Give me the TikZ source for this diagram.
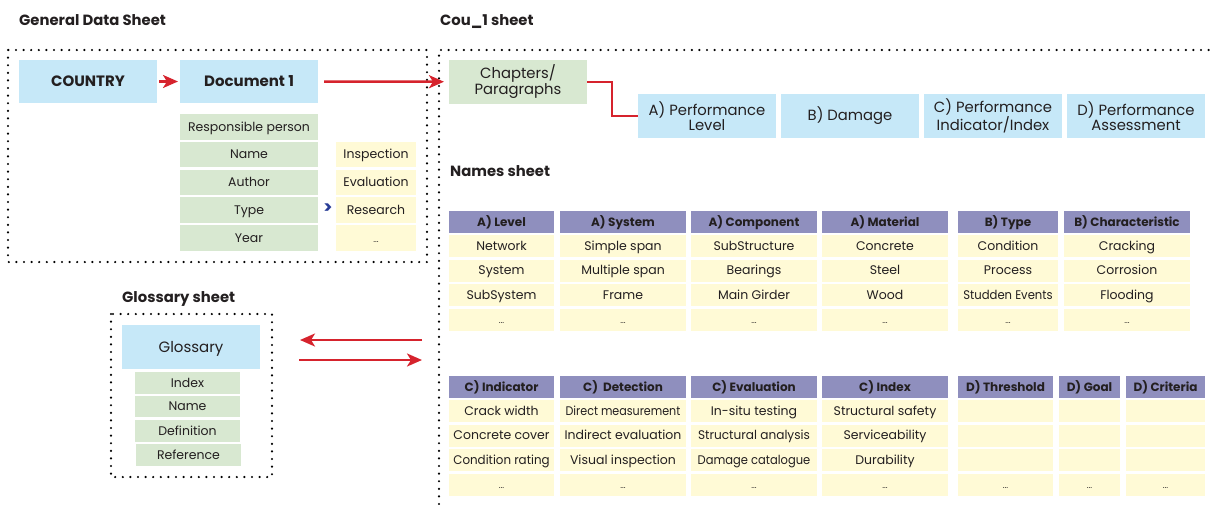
\documentclass[tikz,border=0pt]{standalone}
\usepackage{fontspec}
\setmainfont{Poppins}
\usetikzlibrary{arrows.meta}
\definecolor{cblue}{RGB}{198,232,248}
\definecolor{cgreen}{RGB}{216,232,209}
\definecolor{cyellow}{RGB}{255,250,214}
\definecolor{cpurple}{RGB}{143,143,190}
\definecolor{cred}{RGB}{214,35,45}
\definecolor{cnavy}{RGB}{40,60,150}
\definecolor{ctext}{RGB}{35,31,32}
\newcommand\rbox[7]{\node[#2, minimum width={(#5-#3)*1pt}, minimum height={(#6-#4)*1pt}] (#1) at (#3,#4) {#7};}
\tikzset{
  cellbase/.style={anchor=north west, inner sep=0pt, outer sep=0pt, align=center, text=ctext},
  body/.style={font=\fontsize{12.5}{14}\selectfont, text height=8.7pt, text depth=0pt},
  bluebox/.style={cellbase, fill=cblue, font=\fontsize{14.8}{14.5}\selectfont},
  bluebold/.style={cellbase, fill=cblue, font=\bfseries\fontsize{15}{16}\selectfont, text height=10.5pt, text depth=0pt},
  gcell/.style={cellbase, fill=cgreen, body},
  ycell/.style={cellbase, fill=cyellow, body},
  hdr/.style={cellbase, fill=cpurple, font=\bfseries\fontsize{12}{13}\selectfont, text height=8.4pt, text depth=0pt},
  title/.style={anchor=base west, inner sep=0pt, text=ctext, font=\bfseries\fontsize{14.8}{16}\selectfont},
  dotline/.style={line width=2.4pt, line cap=round, dash pattern=on 0pt off 7.6pt},
  redarrow/.style={draw=cred, line width=2.5pt, -{Stealth[length=15pt,width=13pt,inset=4pt]}},
  redline/.style={draw=cred, line width=2.5pt}
}
\newcommand\celldots{{\fontsize{8.5}{9}\selectfont ...}}
\begin{document}
\begin{tikzpicture}[x=1pt,y=-1pt]
\useasboundingbox (0,0) rectangle (1211,504);
% titles
\node[title] (tgen) at (19,25) {General Data Sheet};
\node[title] (tcou) at (440,25) {Cou\_1 sheet};
\node[title] (tnam) at (450,176.5) {Names sheet};
\node[title] (tglo) at (122,302.5) {Glossary sheet};
% dotted frames
\draw[dotline] (8,50) rectangle (427,262);
\draw[dotline] (111,314) rectangle (272,477);
\draw[dotline] (439,504) -- (439,50) -- (1211,50);
% general data sheet
\rbox{country}{bluebold}{19}{60}{157}{103}{COUNTRY}
\rbox{doc}{bluebold}{180}{60}{318}{103}{Document 1}
\rbox{g1}{gcell}{180}{114}{318}{139.5}{Responsible person}
\rbox{g2}{gcell}{180}{141.8}{318}{167.3}{Name}
\rbox{g3}{gcell}{180}{169.6}{318}{195.1}{Author}
\rbox{g4}{gcell}{180}{197.4}{318}{222.9}{Type}
\rbox{g5}{gcell}{180}{225.2}{318}{250.7}{Year}
\rbox{y2}{ycell}{336}{141.8}{416}{167.3}{Inspection}
\rbox{y3}{ycell}{336}{169.6}{416}{195.1}{Evaluation}
\rbox{y4}{ycell}{336}{197.4}{416}{222.9}{Research}
\rbox{y5}{ycell}{336}{225.2}{416}{250.7}{\celldots}
\node[text=cnavy, inner sep=0pt, font=\bfseries\fontsize{17}{17}\selectfont] (gt) at (328,209) {>};
\draw[redarrow, shorten <=2pt, shorten >=2pt] (country.east) -- (doc.west);
% Cou_1 sheet
\rbox{chap}{bluebox,fill=cgreen}{449}{60}{587}{103.5}{Chapters/\\Paragraphs}
\rbox{pa}{bluebox}{638}{94}{776}{138}{A) Performance\\Level}
\rbox{pb}{bluebox}{781}{94}{919}{138}{B) Damage}
\rbox{pc}{bluebox}{924}{94}{1062}{138}{C) Performance\\Indicator/Index}
\rbox{pd}{bluebox}{1067}{94}{1205}{138}{D) Performance\\Assessment}
\draw[redarrow, shorten <=6pt, shorten >=5pt] (doc.east) -- (chap.west);
\draw[redline] (chap.east) -- ++(25,0) |- (pa.west);
% names table 1
\foreach \i/\xa/\xb/\hd/\ra/\rb/\rc in {
  1/449/554/A) Level/Network/System/SubSystem,
  2/560/686/A) System/Simple span/Multiple span/Frame,
  3/691/817/A) Component/SubStructure/Bearings/Main Girder,
  4/822/948/A) Material/Concrete/Steel/Wood,
  5/958/1058/B) Type/Condition/Process/\scalebox{0.93}[1]{Studden Events},
  6/1064/1190/B) Characteristic/Cracking/Corrosion/Flooding}{
  \rbox{ta\i h}{hdr}{\xa}{211}{\xb}{233}{\hd}
  \rbox{ta\i a}{ycell}{\xa}{235}{\xb}{257}{\ra}
  \rbox{ta\i b}{ycell}{\xa}{259.5}{\xb}{281.5}{\rb}
  \rbox{ta\i c}{ycell}{\xa}{284}{\xb}{306}{\rc}
  \rbox{ta\i d}{ycell}{\xa}{308.5}{\xb}{330.5}{\celldots}
}
% names table 2
\foreach \i/\xa/\xb/\hd/\ra/\rb/\rc in {
  1/449/554/C) Indicator/Crack width/Concrete cover/\scalebox{0.95}[1]{Condition rating},
  2/560/686/C)~ Detection/\scalebox{0.89}[1]{Direct measurement}/Indirect evaluation/Visual inspection,
  3/691/817/C) Evaluation/In-situ testing/\scalebox{0.97}[1]{Structural analysis}/\scalebox{0.92}[1]{Damage catalogue},
  4/822/948/C) Index/Structural safety/Serviceability/Durability,
  5/958/1053/D) Threshold/{}/{}/{},
  6/1059/1120/D) Goal/{}/{}/{},
  7/1126/1205/D) Criteria/{}/{}/{}}{
  \rbox{tb\i h}{hdr}{\xa}{376}{\xb}{398}{\hd}
  \rbox{tb\i a}{ycell}{\xa}{400}{\xb}{422}{\ra}
  \rbox{tb\i b}{ycell}{\xa}{424.5}{\xb}{446.5}{\rb}
  \rbox{tb\i c}{ycell}{\xa}{449}{\xb}{471}{\rc}
  \rbox{tb\i d}{ycell}{\xa}{473.5}{\xb}{495.5}{\celldots}
}
% glossary
\rbox{glo}{bluebox,font=\fontsize{15}{16}\selectfont, text height=10.5pt, text depth=0pt}{122}{325}{260}{369}{Glossary}
\rbox{gl1}{gcell}{135}{372}{240}{394}{Index}
\rbox{gl2}{gcell}{135}{395.5}{240}{417}{Name}
\rbox{gl3}{gcell}{135}{420}{240}{442}{Definition}
\rbox{gl4}{gcell}{136}{444}{241}{466}{Reference}
\coordinate (ga) at (422,340);
\coordinate (gb) at (300,340);
\coordinate (gc) at (299,360);
\coordinate (gd) at (422,360);
\draw[redarrow] (ga) -- (gb);
\draw[redarrow] (gc) -- (gd);
\end{tikzpicture}
\end{document}
